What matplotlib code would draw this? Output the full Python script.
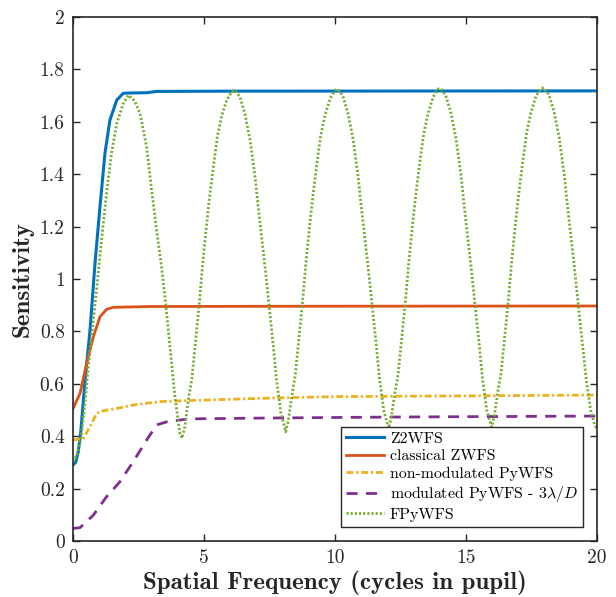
import matplotlib
matplotlib.use('agg')
import matplotlib.pyplot as plt

# Z2WFS
x_z2 = [0, 0.1, 0.2, 0.3, 0.46, 0.65, 0.84, 1.03, 1.22, 1.41, 1.67, 1.92, 2.2, 2.8, 3.2, 6, 20]
y_z2 = [0.29, 0.30, 0.34, 0.42, 0.614, 0.805, 1.06, 1.276, 1.48, 1.607, 1.683, 1.709, 1.710, 1.711, 1.716, 1.717, 1.718]

# classical ZWFS
x_cz = [0, 0.27, 0.52, 0.78, 1.03, 1.28, 1.54, 2.0, 3.0, 8, 20]
y_cz = [0.505, 0.564, 0.678, 0.78, 0.856, 0.884, 0.892, 0.893, 0.895, 0.896, 0.897]

# non-modulated PyWFS
x_nm = [0, 0.39, 0.65, 0.9, 1.16, 1.67, 2.3, 3.32, 4.4, 7.7, 10, 15, 20]
y_nm = [0.385, 0.392, 0.436, 0.487, 0.497, 0.506, 0.519, 0.532, 0.536, 0.546, 0.551, 0.554, 0.557]

# modulated PyWFS - 3 lambda/D
x_mp = [0, 0.27, 0.78, 1.28, 1.79, 2.3, 2.81, 3.19, 3.58, 4.4, 7, 12, 20]
y_mp = [0.048, 0.051, 0.099, 0.169, 0.226, 0.303, 0.385, 0.443, 0.455, 0.466, 0.469, 0.473, 0.477]

# FPyWFS
x_fp = [0, 0.15, 0.3, 0.45, 0.6, 0.75, 0.9, 1.09, 1.28, 1.47, 1.67, 1.92, 2.12,
        2.35, 2.56, 2.81, 3.0, 3.19, 3.38, 3.55, 3.70, 3.89, 4.08, 4.16,
        4.27, 4.40, 4.53, 4.66, 4.81, 4.94, 5.08, 5.20, 5.36, 5.51, 5.67, 5.87, 6.06, 6.17,
        6.37, 6.56, 6.76, 6.95, 7.07, 7.20, 7.33, 7.49, 7.65, 7.77, 7.94, 8.12,
        8.22, 8.35, 8.48, 8.61, 8.76, 8.89, 9.03, 9.15, 9.31, 9.46, 9.62, 9.82, 10.0, 10.1,
        10.3, 10.49, 10.69, 10.88, 11.0, 11.13, 11.26, 11.42, 11.58, 11.70, 11.87, 12.05,
        12.15, 12.28, 12.41, 12.54, 12.69, 12.82, 12.96, 13.08, 13.24, 13.39, 13.55, 13.75, 13.93, 14.03,
        14.23, 14.42, 14.62, 14.81, 14.93, 15.06, 15.19, 15.35, 15.51, 15.63, 15.80, 15.98,
        16.08, 16.21, 16.34, 16.47, 16.62, 16.75, 16.89, 17.01, 17.17, 17.32, 17.48, 17.68, 17.87, 17.97,
        18.17, 18.36, 18.56, 18.75, 18.87, 19.0, 19.13, 19.29, 19.45, 19.60, 19.76, 19.92, 20.0]
y_fp = [0.30, 0.33, 0.39, 0.52, 0.68, 0.82, 0.96, 1.149, 1.327, 1.48, 1.594, 1.67, 1.702,
        1.68, 1.632, 1.505, 1.34, 1.187, 1.047, 0.894, 0.742, 0.551, 0.411, 0.392,
        0.436, 0.538, 0.614, 0.742, 0.894, 1.047, 1.187, 1.302, 1.429, 1.543, 1.62, 1.683, 1.715, 1.721,
        1.696, 1.632, 1.531, 1.391, 1.276, 1.162, 1.047, 0.894, 0.742, 0.614, 0.487, 0.417,
        0.46, 0.55, 0.63, 0.76, 0.91, 1.06, 1.20, 1.31, 1.44, 1.55, 1.625, 1.69, 1.72, 1.725,
        1.70, 1.635, 1.535, 1.395, 1.28, 1.165, 1.05, 0.90, 0.745, 0.62, 0.495, 0.43,
        0.47, 0.56, 0.635, 0.765, 0.915, 1.065, 1.205, 1.315, 1.445, 1.555, 1.63, 1.695, 1.725, 1.728,
        1.70, 1.637, 1.537, 1.397, 1.282, 1.167, 1.052, 0.90, 0.747, 0.622, 0.497, 0.435,
        0.475, 0.565, 0.64, 0.77, 0.92, 1.07, 1.21, 1.32, 1.45, 1.56, 1.635, 1.70, 1.728, 1.73,
        1.703, 1.64, 1.54, 1.40, 1.285, 1.17, 1.055, 0.90, 0.75, 0.61, 0.50, 0.44, 0.43]

labels = ['Z2WFS', 'classical ZWFS', 'non-modulated PyWFS',
          r'modulated PyWFS - 3$\lambda/D$', 'FPyWFS']
xticks = [0, 5, 10, 15, 20]
yticks = [0, 0.2, 0.4, 0.6, 0.8, 1, 1.2, 1.4, 1.6, 1.8, 2]

plt.rcParams['font.family'] = ['cmr10', 'DejaVu Sans']
plt.rcParams['mathtext.fontset'] = 'cm'
plt.rcParams['axes.formatter.use_mathtext'] = True
plt.rcParams['lines.scale_dashes'] = False

fig = plt.figure(figsize=(6.16, 5.97), dpi=100)
ax = fig.add_axes([0.1185, 0.0938, 0.8505, 0.8777])

ax.plot(x_z2, y_z2, color='#0072BD', lw=2.2, label=labels[0])
ax.plot(x_cz, y_cz, color='#D95319', lw=2.0, label=labels[1])
ax.plot(x_nm, y_nm, color='#EDB120', lw=2.0, dashes=(5, 2, 1.6, 2), label=labels[2])
ax.plot(x_mp, y_mp, color='#7E2F8E', lw=2.0, dashes=(8, 6), label=labels[3])
ax.plot(x_fp, y_fp, color='#77AC30', lw=2.0, dashes=(1.5, 1.5), label=labels[4])

ax.set_xlim(0, 20)
ax.set_ylim(0, 2)
ax.set_xticks(xticks)
ax.set_xticklabels([str(t) for t in xticks])
ax.set_yticks(yticks)
ax.set_yticklabels([('%g' % t) for t in yticks])
ax.tick_params(direction='in', length=5, width=1, top=True, right=True,
               labelsize=14, colors='#262626', pad=6)
for s in ax.spines.values():
    s.set_linewidth(1.2)
    s.set_color('#262626')

ax.set_xlabel('Spatial Frequency (cycles in pupil)', family='cmb10', fontsize=18,
              color='#262626', labelpad=2)
ax.set_ylabel('Sensitivity', family='cmb10', fontsize=18, color='#262626', labelpad=4)

leg = ax.legend(loc='lower right', fontsize=11.4, handlelength=2.4, handletextpad=0.4,
                borderpad=0.3, labelspacing=0.22, borderaxespad=0.9,
                fancybox=False, framealpha=1, edgecolor='#262626')
leg.get_frame().set_linewidth(1.0)

plt.savefig('out.png', dpi=100)
